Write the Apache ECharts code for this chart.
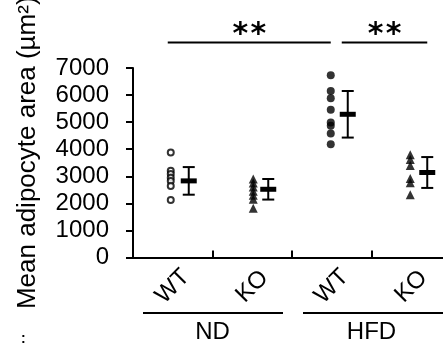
<!DOCTYPE html>
<html>
<head>
<meta charset="utf-8">
<script src="https://cdn.jsdelivr.net/npm/echarts@6/dist/echarts.min.js"></script>
<style>
html,body{margin:0;padding:0;background:#fff;}
#c{width:443px;height:347px;}
</style>
</head>
<body>
<div id="c"></div>
<script>
var categories = ['WT', 'KO', 'WT', 'KO'];
var groups = ['ND', 'HFD'];
var yTicks = [0, 1000, 2000, 3000, 4000, 5000, 6000, 7000];
var ndWT = [3880, 3200, 3080, 2950, 2830, 2640, 2120];
var ndKO = [2900, 2750, 2600, 2450, 2300, 2150, 1820];
var hfdWT = [6730, 6150, 5880, 5460, 4990, 4870, 4580, 4180];
var hfdKO = [3800, 3620, 3400, 2920, 2760, 2320];
var means = [2830, 2520, 5290, 3140];
var sds = [510, 380, 860, 570];
var yTitle = 'Mean adipocyte area (µm²)';
var sigMark = '*';

var FONT = 'Liberation Sans, Arial, sans-serif';
var chart = echarts.init(document.getElementById('c'), null, {renderer: 'canvas'});

function pts(arr, idx) { return arr.map(function (v) { return [idx, v]; }); }

var option = {
  animation: false,
  backgroundColor: '#fff',
  grid: {left: 133, top: 68, right: -8, bottom: 89.5, containLabel: false, outerBoundsMode: 'none'},
  xAxis: {
    type: 'category',
    data: categories,
    boundaryGap: true,
    axisLine: {show: true, lineStyle: {color: '#000', width: 2}},
    axisTick: {show: true, inside: true, length: 7, interval: 0, lineStyle: {color: '#000', width: 2}},
    axisLabel: {show: true, interval: 0, rotate: 45, align: 'center', verticalAlign: 'middle', margin: 29,
      fontSize: 24, color: '#000', fontFamily: FONT},
    splitLine: {show: false}
  },
  yAxis: {
    type: 'value',
    min: yTicks[0], max: yTicks[yTicks.length - 1], interval: 1000,
    name: yTitle, nameLocation: 'middle', nameRotate: 90, nameGap: 92,
    nameTextStyle: {fontSize: 26, color: '#000', fontFamily: FONT, padding: [0, 0, 0, 20]},
    axisLine: {show: true, lineStyle: {color: '#000', width: 2}},
    axisTick: {show: true, inside: false, length: 7, lineStyle: {color: '#000', width: 2}},
    axisLabel: {margin: 24, fontSize: 24, color: '#000', fontFamily: FONT,
      formatter: function (v) { return String(v); }},
    splitLine: {show: false}
  },
  series: [
    {type: 'scatter', data: pts(ndWT, 0), symbol: 'circle', symbolSize: 6, symbolOffset: [-2, 0],
      itemStyle: {color: '#fff', borderColor: '#000', borderWidth: 2}, z: 3},
    {type: 'scatter', data: pts(ndKO, 1), symbol: 'triangle', symbolSize: 9, symbolOffset: [1, 0],
      itemStyle: {color: '#000'}, z: 3},
    {type: 'scatter', data: pts(hfdWT, 2), symbol: 'circle', symbolSize: 8, symbolOffset: [-1, 0],
      itemStyle: {color: '#000'}, z: 3},
    {type: 'scatter', data: pts(hfdKO, 3), symbol: 'triangle', symbolSize: 9, symbolOffset: [-1, 0],
      itemStyle: {color: '#000'}, z: 3},
    {
      type: 'custom', clip: false, z: 4,
      data: means.map(function (m, i) { return [i, m, sds[i]]; }),
      renderItem: function (params, api) {
        var i = api.value(0), m = api.value(1), s = api.value(2);
        var pm = api.coord([i, m]);
        var pt = api.coord([i, m + s]);
        var pb = api.coord([i, m - s]);
        var x = pm[0] + 16;
        var st = {stroke: '#000', lineWidth: 2};
        return {type: 'group', children: [
          {type: 'line', shape: {x1: x, y1: pt[1], x2: x, y2: pb[1]}, style: st},
          {type: 'line', shape: {x1: x - 6, y1: pt[1], x2: x + 6, y2: pt[1]}, style: st},
          {type: 'line', shape: {x1: x - 6, y1: pb[1], x2: x + 6, y2: pb[1]}, style: st},
          {type: 'line', shape: {x1: x - 8, y1: pm[1], x2: x + 8, y2: pm[1]}, style: {stroke: '#000', lineWidth: 5}}
        ]};
      }
    },
    {
      type: 'custom', clip: false, z: 4,
      data: [[0, 0]],
      renderItem: function (params, api) {
        var c0 = api.coord([0, 0]), c1 = api.coord([1, 0]), c2 = api.coord([2, 0]), c3 = api.coord([3, 0]);
        var top = api.coord([0, yTicks[yTicks.length - 1]])[1];
        var half = (c1[0] - c0[0]) / 2;
        var base = c0[1];
        var gy = base + 55.5;
        var sy = top - 25.5;
        var st = {stroke: '#000', lineWidth: 2};
        var ts = function (t, x, y, font) {
          return {type: 'text', style: {text: t, x: x, y: y, fill: '#000', font: font,
            textAlign: 'center', textVerticalAlign: 'middle'}};
        };
        var starFont = 'bold 30px DejaVu Sans, sans-serif';
        var s1 = (c0[0] - 5 + c2[0] - 1) / 2, s2 = (c2[0] + 10 + c3[0] + 16) / 2;
        return {type: 'group', children: [
          {type: 'line', shape: {x1: c0[0] - half + 10, y1: gy, x2: c1[0] + half - 9, y2: gy}, style: st},
          {type: 'line', shape: {x1: c2[0] - half + 11, y1: gy, x2: c3[0] + half - 8, y2: gy}, style: st},
          ts(groups[0], (c0[0] + c1[0]) / 2, gy + 19, '24px ' + FONT),
          ts(groups[1], (c2[0] + c3[0]) / 2, gy + 19, '24px ' + FONT),
          {type: 'line', shape: {x1: c0[0] - 5, y1: sy, x2: c2[0] - 1, y2: sy}, style: st},
          {type: 'line', shape: {x1: c2[0] + 10, y1: sy, x2: c3[0] + 16, y2: sy}, style: st},
          ts(sigMark, s1 - 9, sy - 7, starFont),
          ts(sigMark, s1 + 9, sy - 7, starFont),
          ts(sigMark, s2 - 9, sy - 7, starFont),
          ts(sigMark, s2 + 9, sy - 7, starFont)
        ]};
      }
    }
  ],
  graphic: [
    {type: 'text', left: 21, top: 332, style: {text: ':', font: 'bold 14px ' + FONT, fill: '#000'}}
  ]
};
chart.setOption(option);
</script>
</body>
</html>
